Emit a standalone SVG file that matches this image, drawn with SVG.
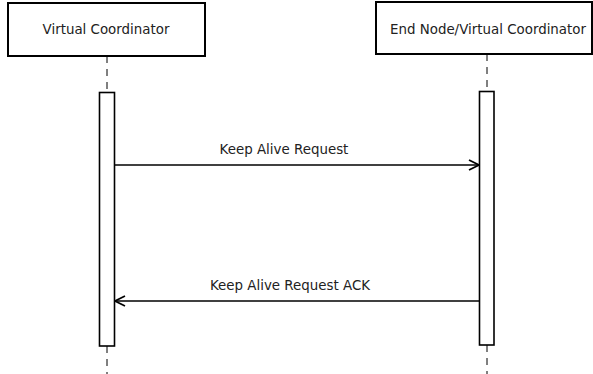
<svg xmlns="http://www.w3.org/2000/svg" width="593" height="374" viewBox="0 0 593 374">
<style>
.box{fill:#fff;stroke:#000;stroke-width:2}
.life{stroke:#000;stroke-width:1;stroke-dasharray:7 6;fill:none}
.act{fill:#fff;stroke:#000;stroke-width:1.6}
.msg{stroke:#000;stroke-width:1.6;fill:none}
text{font-family:"DejaVu Sans",sans-serif;font-size:13.4px;fill:#222;text-anchor:middle}
</style>
<defs>
<marker id="arr" markerWidth="12" markerHeight="12" refX="11" refY="6" orient="auto" markerUnits="userSpaceOnUse">
<path d="M1,1 L11,6 L1,11" fill="none" stroke="#000" stroke-width="1.8"/>
</marker>
</defs>
<rect width="593" height="374" fill="#fff"/>
<g id="lifelines">
<line class="life" x1="107" y1="56" x2="107" y2="92"/>
<line class="life" x1="107" y1="346" x2="107" y2="374"/>
<line class="life" x1="487" y1="54" x2="487" y2="91"/>
<line class="life" x1="487" y1="345" x2="487" y2="374"/>
</g>
<g id="vc">
<rect class="box" x="8" y="3" width="197" height="53"/>
<text x="106" y="34">Virtual Coordinator</text>
<rect class="act" x="99.5" y="92.5" width="15" height="253.5"/>
</g>
<g id="en">
<rect class="box" x="376" y="2" width="216" height="52"/>
<text x="488" y="34">End Node/Virtual Coordinator</text>
<rect class="act" x="479.5" y="91.5" width="14.5" height="253.5"/>
</g>
<g id="connectors">
<line class="msg" x1="115" y1="165" x2="479" y2="165" marker-end="url(#arr)"/>
<text x="284" y="154">Keep Alive Request</text>
<line class="msg" x1="479" y1="301" x2="115" y2="301" marker-end="url(#arr)"/>
<text x="290" y="290">Keep Alive Request ACK</text>
</g>
</svg>
